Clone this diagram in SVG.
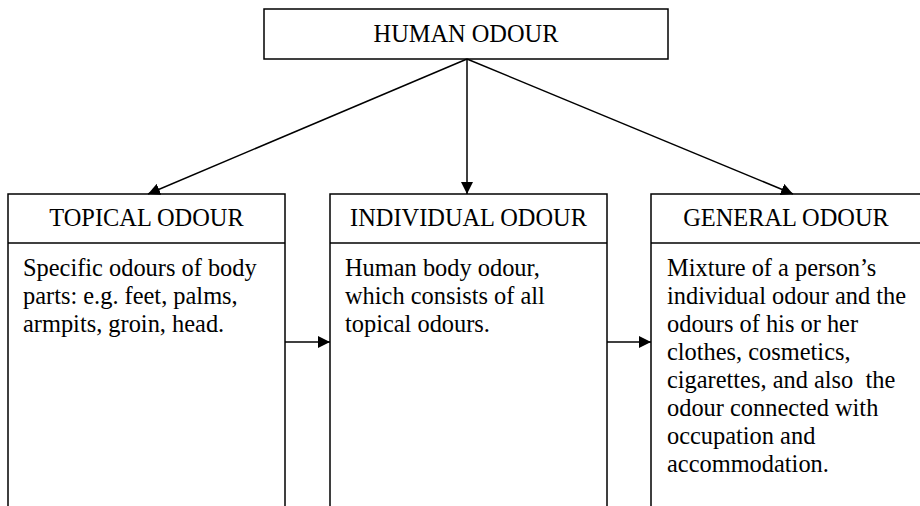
<svg xmlns="http://www.w3.org/2000/svg" width="920" height="506" viewBox="0 0 920 506">
<style>
.box{fill:#fff;stroke:#000;stroke-width:1.5}
.ln{stroke:#000;stroke-width:1.5;fill:none}
.t{font-family:"Liberation Serif","Times New Roman",serif;font-size:24.4px;fill:#000}
.h{text-anchor:middle}
</style>
<defs>
<marker id="ah" viewBox="0 0 10 10" refX="10" refY="5" markerWidth="12" markerHeight="12" markerUnits="userSpaceOnUse" orient="auto">
<path d="M0,0 L10,5 L0,10 z" fill="#000"/>
</marker>
</defs>
<g id="human">
<rect class="box" x="264" y="9" width="404" height="50"/>
<text class="t h" x="466" y="42">HUMAN ODOUR</text>
</g>
<g id="topical">
<rect class="box" x="8" y="194" width="277" height="330"/>
<line class="ln" x1="8" y1="243" x2="285" y2="243"/>
<text class="t h" x="146.5" y="226">TOPICAL ODOUR</text>
<text class="t" x="23" y="276">Specific odours of body</text>
<text class="t" x="23" y="304">parts: e.g. feet, palms,</text>
<text class="t" x="23" y="332">armpits, groin, head.</text>
</g>
<g id="individual">
<rect class="box" x="330" y="194" width="277" height="330"/>
<line class="ln" x1="330" y1="243" x2="607" y2="243"/>
<text class="t h" x="468.5" y="226">INDIVIDUAL ODOUR</text>
<text class="t" x="345" y="276">Human body odour,</text>
<text class="t" x="345" y="304">which consists of all</text>
<text class="t" x="345" y="332">topical odours.</text>
</g>
<g id="general">
<rect class="box" x="651" y="194" width="280" height="330"/>
<line class="ln" x1="651" y1="243" x2="931" y2="243"/>
<text class="t h" x="786" y="226">GENERAL ODOUR</text>
<text class="t" x="667" y="276">Mixture of a person’s</text>
<text class="t" x="667" y="304">individual odour and the</text>
<text class="t" x="667" y="332">odours of his or her</text>
<text class="t" x="667" y="360">clothes, cosmetics,</text>
<text class="t" x="667" y="388" xml:space="preserve">cigarettes, and also  the</text>
<text class="t" x="667" y="416">odour connected with</text>
<text class="t" x="667" y="444">occupation and</text>
<text class="t" x="667" y="472">accommodation.</text>
</g>
<g id="connectors">
<line class="ln" x1="467" y1="59" x2="148" y2="194" marker-end="url(#ah)"/>
<line class="ln" x1="467" y1="59" x2="467" y2="194" marker-end="url(#ah)"/>
<line class="ln" x1="467" y1="59" x2="793" y2="194" marker-end="url(#ah)"/>
<line class="ln" x1="285" y1="342" x2="330" y2="342" marker-end="url(#ah)"/>
<line class="ln" x1="607" y1="342" x2="651" y2="342" marker-end="url(#ah)"/>
</g>
</svg>
